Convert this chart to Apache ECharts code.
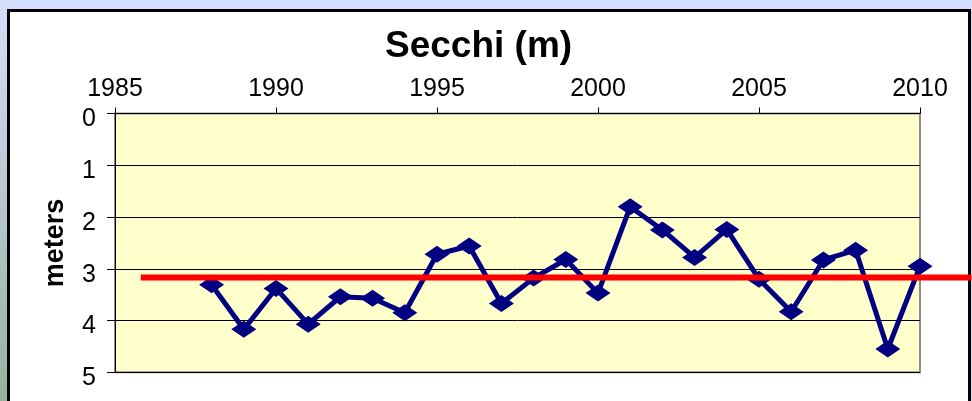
<!DOCTYPE html>
<html>
<head>
<meta charset="utf-8">
<script src="https://cdn.jsdelivr.net/npm/echarts@6/dist/echarts.min.js"></script>
<style>
  html, body { margin: 0; padding: 0; }
  #secchi-chart { width: 972px; height: 401px; }
</style>
</head>
<body>
<div id="secchi-chart"></div>
<script>
// secchi depth by year
var years = [1988, 1989, 1990, 1991, 1992, 1993, 1994, 1995, 1996, 1997, 1998, 1999,
             2000, 2001, 2002, 2003, 2004, 2005, 2006, 2007, 2008, 2009, 2010]
var secchi = [3.31, 4.17, 3.38, 4.07, 3.54, 3.57, 3.85, 2.72, 2.56, 3.67, 3.18, 2.82,
              3.47, 1.80, 2.25, 2.78, 2.24, 3.20, 3.83, 2.83, 2.64, 4.55, 2.95]

// long term mean line (runs off the right edge in the original)
var meanYears = [1985.8, 2011.6]
var meanValue = 3.17

var yTicks = [0, 1, 2, 3, 4, 5]

var font = '"Liberation Sans", Arial, sans-serif'

function init(){
    var myChart = echarts.init(document.getElementById('secchi-chart'));

    var points = []
    for (var i in years){
        points.push([years[i], secchi[i]])
    }
    var meanPoints = []
    for (var j in meanYears){
        meanPoints.push([meanYears[j], meanValue])
    }

    var option = {
        backgroundColor: '#d4defc',
        animation: false,
        graphic: [
            {
                type: 'rect', z: -10,
                shape: { x: 0, y: 0, width: 8, height: 401 },
                style: {
                    fill: new echarts.graphic.LinearGradient(0, 0, 0, 1, [
                        { offset: 0, color: '#d4defc' },
                        { offset: 1, color: '#98b09e' }
                    ])
                }
            },
            {
                type: 'rect', z: -5,
                shape: { x: 8.5, y: 10.5, width: 961, height: 400 },
                style: { fill: '#ffffff', stroke: '#000000', lineWidth: 3 }
            }
        ],
        title: {
            text: 'Secchi (m)',
            left: 380,
            top: 23,
            textStyle: { fontFamily: font, fontSize: 37, fontWeight: 'bold', color: '#000' }
        },
        grid: [
            {
                left: 115, right: 52, top: 113.5, bottom: 28.7,
                show: true,
                backgroundColor: '#ffffcc',
                borderColor: '#8c8c8c',
                borderWidth: 2
            },
            // second hidden grid, wider, so the mean line can run past the plot
            { left: 115, right: 0, top: 113.5, bottom: 28.7 }
        ],
        xAxis: [
            {
                type: 'value',
                position: 'top',
                min: 1985, max: 2010, interval: 5,
                axisLine: { show: true, lineStyle: { color: '#000', width: 1 } },
                axisTick: { show: true, length: 6, lineStyle: { color: '#000' } },
                axisLabel: {
                    fontFamily: font, fontSize: 25, color: '#000', margin: 12,
                    formatter: function(v){ return String(v) }
                },
                splitLine: { show: false }
            },
            {
                type: 'value', gridIndex: 1, show: false,
                min: 1985, max: 1985 + (972 - 115) / ((920 - 115) / 25)
            }
        ],
        yAxis: [
            {
                type: 'value',
                inverse: true,
                min: yTicks[0], max: yTicks[yTicks.length - 1], interval: 1,
                name: 'meters',
                nameLocation: 'middle',
                nameRotate: 90,
                nameGap: 46,
                nameTextStyle: { fontFamily: font, fontSize: 27, fontWeight: 'bold', color: '#000' },
                axisLine: { show: true, lineStyle: { color: '#000', width: 1 } },
                axisTick: { show: true, length: 8, lineStyle: { color: '#000' } },
                axisLabel: {
                    fontFamily: font, fontSize: 25, color: '#000', margin: 19,
                    verticalAlign: 'top', lineHeight: 12
                },
                splitLine: { show: true, lineStyle: { color: '#000', width: 1 } }
            },
            {
                type: 'value', gridIndex: 1, show: false, inverse: true,
                min: yTicks[0], max: yTicks[yTicks.length - 1]
            }
        ],
        series: [
            {
                name: 'secchi',
                type: 'line',
                data: points,
                symbol: 'diamond',
                symbolSize: [25, 17],
                lineStyle: { color: '#000080', width: 5 },
                itemStyle: { color: '#000080' },
                z: 3
            },
            {
                name: 'mean',
                type: 'line',
                xAxisIndex: 1,
                yAxisIndex: 1,
                data: meanPoints,
                symbol: 'none',
                lineStyle: { color: '#ff0000', width: 6 },
                z: 4
            }
        ]
    };

    myChart.setOption(option);
}
init()
</script>
</body>
</html>
